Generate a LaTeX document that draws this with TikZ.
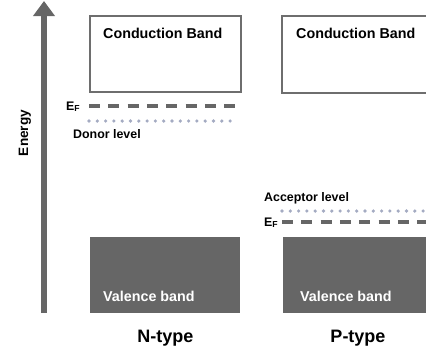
\documentclass[tikz,border=0pt]{standalone}
\usepackage{fontspec}
\setmainfont{Liberation Sans}
\usetikzlibrary{arrows.meta}
\definecolor{bandgray}{HTML}{666666}
\definecolor{edgegray}{HTML}{6E6E6E}
\definecolor{dotblue}{HTML}{A4ABC2}
\tikzset{
  bandtxt/.style={font=\bfseries\fontsize{14.3}{16}\selectfont, inner sep=0pt, anchor=base west},
  leveltxt/.style={font=\bfseries\fontsize{12.4}{14}\selectfont, inner sep=0pt, anchor=base west},
  typetxt/.style={font=\bfseries\fontsize{18}{20}\selectfont, inner sep=0pt, anchor=base},
  fermi/.style={line width=3.4pt, draw=bandgray, dash pattern=on 11pt off 8.3pt},
  dotline/.style={line width=3.6pt, draw=dotblue, line cap=round, dash pattern=on 0pt off 8.3pt},
  condband/.style={line width=2.6pt, draw=edgegray, fill=white},
  valband/.style={fill=bandgray},
}
\begin{document}
\begin{tikzpicture}[x=1pt,y=-1pt]
\useasboundingbox (0,0) rectangle (426,354);
\clip (0,0) rectangle (426,354);

% energy axis
\coordinate (axbot) at (44,313);
\coordinate (axtop) at (44,1);
\draw[line width=5.5pt, draw=bandgray, -{Triangle[width=21pt,length=15pt]}] (axbot) -- (axtop);
\node[font=\bfseries\fontsize{13.6}{15}\selectfont, inner sep=0pt, rotate=90, anchor=base] (energy) at (28,133) {Energy};

% N-type
\draw[condband] (90,16) rectangle (241,92);
\node[bandtxt] (ncb) at (103,38) {Conduction Band};
\node[leveltxt] (nef) at (66,110) {E\textsubscript{F}};
\draw[fermi] (89,106) -- (240,106);
\draw[dotline] (89,121) -- (236,121);
\node[leveltxt] (ndonor) at (73,138) {Donor level};
\fill[valband] (90,237) rectangle (240,313);
\node[bandtxt, text=white] (nvb) at (103,301) {Valence band};
\node[typetxt] (ntype) at (165.5,342) {N-type};

% P-type
\draw[condband] (282,16) rectangle (440,93);
\node[bandtxt] (pcb) at (296,38) {Conduction Band};
\node[leveltxt] (pacc) at (264,201) {Acceptor level};
\draw[dotline] (282,211) -- (430,211);
\node[leveltxt] (pef) at (264,226) {E\textsubscript{F}};
\draw[fermi] (282,222) -- (430,222);
\fill[valband] (283,237) rectangle (440,313);
\node[bandtxt, text=white] (pvb) at (300,301) {Valence band};
\node[typetxt] (ptype) at (358,342) {P-type};
\end{tikzpicture}
\end{document}
